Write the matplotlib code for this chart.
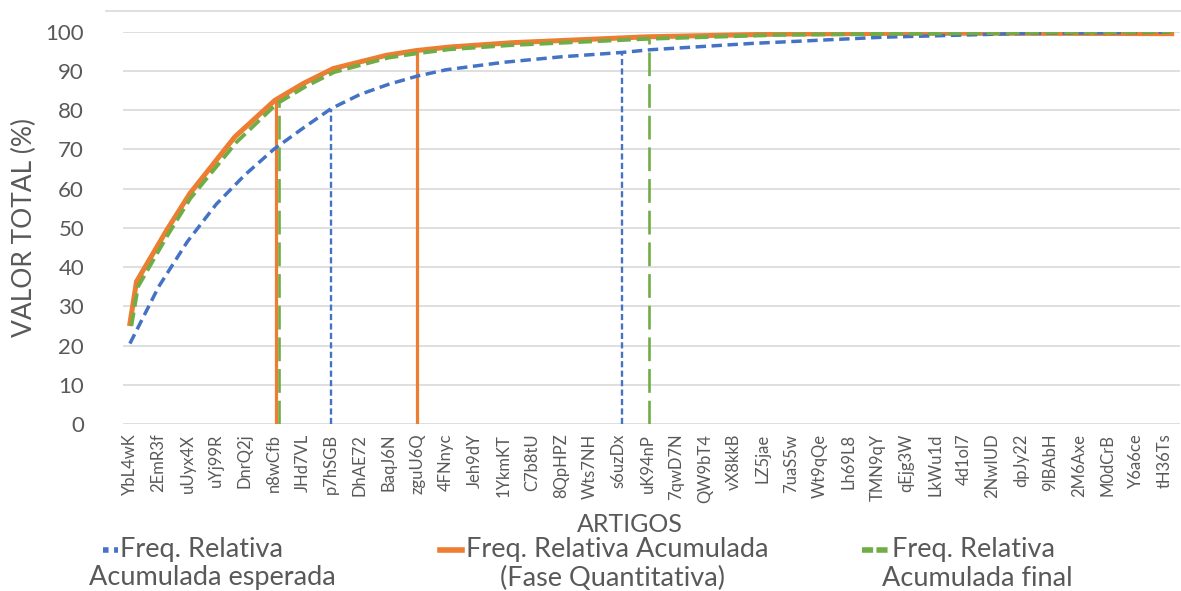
import matplotlib.pyplot as plt
from matplotlib.lines import Line2D

plt.rcParams['font.family'] = ['Lato', 'DejaVu Sans']

# categories shown on the x axis
labels = ["YbL4wK", "2EmR3f", "uUyx4X", "uYj99R", "DnrQ2j", "n8wCfb", "JHd7VL",
          "p7hSGB", "DhAE72", "BaqJ6N", "zguU6Q", "4FNnyc", "Jeh9dY", "1YkmKT",
          "C7b8tU", "8QpHPZ", "Wts7NH", "s6uzDx", "uK94nP", "7qwD7N", "QW9bT4",
          "vX8kkB", "LZ5jae", "7uaS5w", "Wt9qQe", "Lh69L8", "TMN9qY", "qEjg3W",
          "LkWu1d", "4d1ol7", "2NwIUD", "dpJy22", "9lBAbH", "2M6Axe", "M0dCrB",
          "Y6a6ce", "tH36Ts"]

# curves: position along the category axis and cumulative %
pos_blue = [0, 1, 2, 3, 4, 5, 6, 7, 8, 9, 10, 11, 13, 15, 17.1, 18.1, 21.6,
            26.2, 30.8, 36.23]
val_blue = [20.5, 35.0, 46.5, 56.0, 63.5, 70.0, 75.3, 80.4, 84.0, 86.6, 88.7,
            90.3, 92.2, 93.6, 94.7, 95.4, 97.0, 98.6, 99.5, 99.9]

pos_orange = [0, 0.23, 1.28, 2.09, 3.65, 5.04, 6.03, 7.07, 8.93, 9.97, 11.13,
              13.3, 18.0, 22.6, 27.0, 31.0, 36.23]
val_orange = [25.6, 36.3, 49.4, 58.8, 73.2, 82.5, 86.8, 90.6, 94.0, 95.2, 96.1,
              97.2, 98.7, 99.4, 99.6, 99.6, 99.5]

pos_green = [0.05, 0.28, 1.3, 2.1, 3.7, 5.1, 6.1, 7.1, 9.0, 10.0, 11.1, 13.3,
             18.06, 22.6, 27.0, 31.0, 36.23]
val_green = [25.0, 35.0, 48.0, 57.5, 71.8, 81.6, 86.0, 89.7, 93.4, 94.5, 95.5,
             96.6, 98.2, 99.2, 99.5, 99.7, 100.0]

# cut-off drop lines
cut_blue_pos = [6.98, 17.1]
cut_blue_val = [80.4, 94.7]
cut_orange_pos = [5.07, 9.97]
cut_orange_val = [82.5, 95.2]
cut_green_pos = [5.2, 18.06]
cut_green_val = [81.8, 98.2]

BLUE = "#4472C4"
ORANGE = "#ED7D31"
GREEN = "#70AD47"
TXT = "#595959"
GRID = "#D9D9D9"

W, H = 1181, 591
fig = plt.figure(figsize=(W / 100, H / 100), dpi=100)
ax = fig.add_axes([123 / W, 1 - 424 / H, (1180 - 123) / W, (424 - 31.7) / H])

ax.plot(pos_orange, val_orange, color=ORANGE, lw=3.6, solid_joinstyle="miter", zorder=3)
ax.plot(pos_blue, val_blue, color=BLUE, lw=2.5, ls=(0, (3, 1.6)), zorder=4)
ax.plot(pos_green, val_green, color=GREEN, lw=2.8, ls=(0, (3.5, 1.5)), zorder=5)

for p, v in zip(cut_orange_pos, cut_orange_val):
    ax.plot([p, p], [0, v], color=ORANGE, lw=2.3, zorder=3)
for p, v in zip(cut_blue_pos, cut_blue_val):
    ax.plot([p, p], [0, v], color=BLUE, lw=1.7, ls=(0, (2.6, 1.4)), zorder=4)
for p, v in zip(cut_green_pos, cut_green_val):
    ax.plot([p, p], [0, v], color=GREEN, lw=1.9, ls=(0, (9, 3)), zorder=5)

ax.set_xlim(-0.24, 36.52)
ax.set_ylim(0, 100)
ax.set_yticks(range(0, 101, 10))
ax.set_xticks(range(len(labels)))
ax.set_xticklabels(labels, rotation=90, fontsize=12, color=TXT)
ax.tick_params(axis="y", length=0, pad=28, labelsize=16, labelcolor=TXT)
ax.tick_params(axis="x", length=0, pad=7)
ax.grid(axis="y", color=GRID, lw=1.2)
ax.set_axisbelow(True)
for s in ax.spines.values():
    s.set_visible(False)

ax.set_ylabel("VALOR TOTAL (%)", fontsize=19, color=TXT, labelpad=6)
fig.text(630 / W, 1 - 524 / H, "ARTIGOS", fontsize=18, color=TXT, ha="center", va="center")

# chart-area top border
fig.add_artist(Line2D([106 / W, 1], [1 - 11 / H] * 2, color=GRID, lw=1.2))

# legend drawn by hand (Excel style wrapped entries)
leg = [
    (BLUE, (0, (1, 1)), 103, 118, 120, 212, "Freq. Relativa", "Acumulada esperada"),
    (ORANGE, "-", 440, 462, 466, 612, "Freq. Relativa Acumulada", "(Fase Quantitativa)"),
    (GREEN, (0, (2, 0.6)), 862, 890, 892, 977, "Freq. Relativa", "Acumulada final"),
]
for col, ls, x0, x1, tx, cx, l1, l2 in leg:
    fig.add_artist(Line2D([x0 / W, x1 / W], [1 - 550 / H] * 2, color=col, lw=4, ls=ls))
    fig.text(tx / W, 1 - 550 / H, l1, fontsize=19.5, color=TXT, ha="left", va="center")
    fig.text(cx / W, 1 - 578 / H, l2, fontsize=19.5, color=TXT, ha="center", va="center")

fig.savefig("out.png", dpi=100, facecolor="white")
